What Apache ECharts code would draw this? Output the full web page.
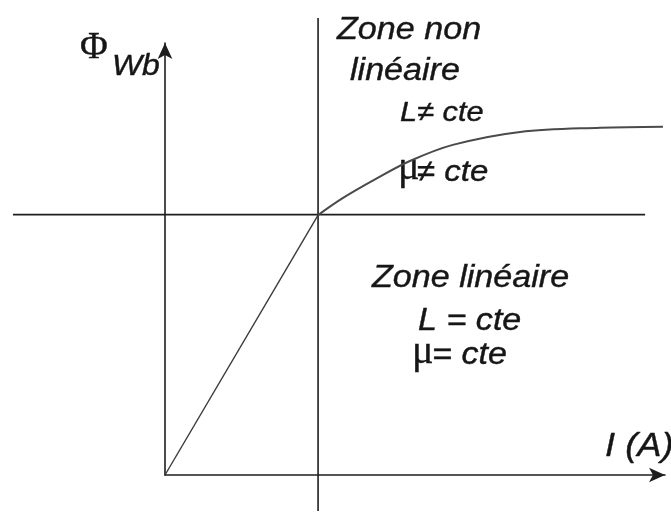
<!DOCTYPE html>
<html>
<head>
<meta charset="utf-8">
<script src="https://cdn.jsdelivr.net/npm/echarts@6/dist/echarts.min.js"></script>
<style>
	html, body { margin: 0; padding: 0; background: #fff; }
	#chart { width: 671px; height: 513px; }
</style>
</head>
<body>
<div id="chart"></div>
<script>
	// zone linéaire : droite de l'origine au coude
	var linearI = [0, 3];
	var linearPhi = [0, 5];

	// zone non linéaire : saturation
	var curveI = [3, 3.49, 4.16, 4.80, 5.64, 6.96, 8.53, 9.76];
	var curvePhi = [5, 5.33, 5.71, 6.04, 6.35, 6.60, 6.68, 6.70];

	// droites de séparation des zones
	var splitHI = [-2.98, 9.41];
	var splitHPhi = [5, 5];
	var splitVI = [3, 3];
	var splitVPhi = [8.79, -0.71];

	var texts = ['Zone non', 'linéaire', 'L\u2260 cte', '\u03bc', '\u2260 cte',
		'Zone linéaire', 'L = cte', '\u03bc', '= cte', 'I (A)', '\u03a6', 'Wb'];

	function pairs(xs, ys) {
		return xs.map(function(x, k) { return [x, ys[k]]; });
	}

	var sans = '"Liberation Sans", Arial, sans-serif';
	var serif = '"Liberation Serif", "Times New Roman", serif';
	var ink = '#161616';

	function label(str, x, baseline, size, family, italic, sx) {
		return {
			type: 'text',
			x: x,
			y: baseline - 0.36 * size,
			scaleX: sx,
			silent: true,
			style: {
				text: str,
				x: 0,
				y: 0,
				fill: ink,
				stroke: ink,
				lineWidth: 0.4,
				font: (italic ? 'italic ' : '') + size + 'px ' + family,
				verticalAlign: 'middle',
				align: 'left'
			}
		};
	}

	function hiddenAxis(idx, min, max) {
		return {
			type: 'value', gridIndex: idx, min: min, max: max, show: false
		};
	}

	function arrowAxis(min, max) {
		return {
			type: 'value',
			gridIndex: 0,
			min: min,
			max: max,
			axisLine: {
				onZero: false,
				symbol: ['none', 'arrow'],
				symbolSize: [11, 16],
				lineStyle: { color: '#1e1e1e', width: 1.6 }
			},
			axisTick: { show: false },
			axisLabel: { show: false },
			splitLine: { show: false }
		};
	}

	var chart = echarts.init(document.getElementById('chart'));

	var lineBase = { type: 'line', symbol: 'none', silent: true, animation: false };

	var option = {
		backgroundColor: '#fff',
		animation: false,
		grid: [
			// repère I / Phi
			{ left: 165, top: 43, width: 500, height: 432 },
			// même échelle, toute la zone, pour les droites de séparation
			{ left: 11.94, top: 17.5, width: 653.06, height: 496.5 }
		],
		xAxis: [arrowAxis(0, 9.8), hiddenAxis(1, -3, 9.8)],
		yAxis: [arrowAxis(0, 8.31), hiddenAxis(1, -0.75, 8.8)],
		series: [
			Object.assign({}, lineBase, {
				xAxisIndex: 1, yAxisIndex: 1,
				data: pairs(splitHI, splitHPhi),
				lineStyle: { color: '#1e1e1e', width: 1.6 }
			}),
			Object.assign({}, lineBase, {
				xAxisIndex: 1, yAxisIndex: 1,
				data: pairs(splitVI, splitVPhi),
				lineStyle: { color: '#1e1e1e', width: 1.6 }
			}),
			Object.assign({}, lineBase, {
				data: pairs(linearI, linearPhi),
				lineStyle: { color: '#3a3a3a', width: 1.4 }
			}),
			Object.assign({}, lineBase, {
				data: pairs(curveI, curvePhi),
				smooth: 0.35,
				lineStyle: { color: '#4a4a4a', width: 2 }
			})
		],
		graphic: [
			label(texts[0], 337, 42, 31, sans, true, 1.1),
			label(texts[1], 350, 83, 31, sans, true, 1.1),
			label(texts[2], 400, 123, 28, sans, true, 1.1),
			label(texts[3], 398, 183, 40, serif, false, 1),
			label(texts[4], 417, 183, 30, sans, true, 1.1),
			label(texts[5], 372, 290, 31, sans, true, 1.1),
			label(texts[6], 418, 333, 31, sans, true, 1.1),
			label(texts[7], 412, 367, 40, serif, false, 1),
			label(texts[8], 432, 367, 31, sans, true, 1.1),
			label(texts[9], 605, 459, 33, sans, true, 1.1),
			label(texts[10], 80, 62, 38, serif, false, 1),
			label(texts[11], 112, 77, 29, sans, true, 1.1)
		]
	};
	chart.setOption(option);
</script>
</body>
</html>
